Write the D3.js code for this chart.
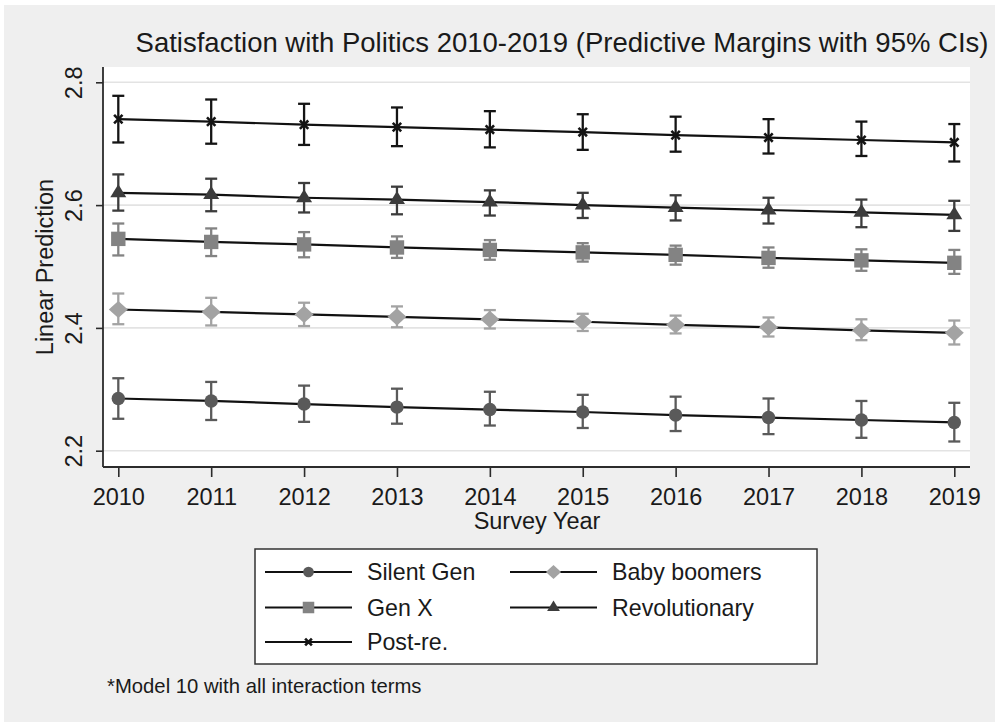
<!DOCTYPE html>
<html>
<head>
<meta charset="utf-8">
<script src="https://cdn.jsdelivr.net/npm/d3@7/dist/d3.min.js"></script>
<style>
  html, body { margin: 0; padding: 0; background: #ffffff; }
  svg { display: block; font-family: "Liberation Sans", Arial, Helvetica, sans-serif; }
</style>
</head>
<body>
<svg id="chart" width="995" height="725"></svg>
<script>
// Survey years on the x axis
const years = [2010, 2011, 2012, 2013, 2014, 2015, 2016, 2017, 2018, 2019];
const yTicks = [2.2, 2.4, 2.6, 2.8];

// Predictive margins per generation, with lower/upper 95% CI bounds
const silentGen     = [2.285, 2.281, 2.276, 2.271, 2.267, 2.263, 2.258, 2.254, 2.250, 2.246];
const silentGenLo   = [2.252, 2.250, 2.247, 2.244, 2.241, 2.237, 2.232, 2.227, 2.221, 2.215];
const silentGenHi   = [2.318, 2.312, 2.306, 2.301, 2.296, 2.291, 2.288, 2.285, 2.281, 2.278];

const babyBoomers   = [2.430, 2.426, 2.422, 2.418, 2.414, 2.410, 2.405, 2.401, 2.396, 2.392];
const babyBoomersLo = [2.406, 2.404, 2.403, 2.401, 2.399, 2.395, 2.391, 2.386, 2.380, 2.373];
const babyBoomersHi = [2.456, 2.449, 2.441, 2.435, 2.429, 2.423, 2.420, 2.417, 2.414, 2.412];

const genX          = [2.545, 2.540, 2.536, 2.531, 2.527, 2.523, 2.519, 2.514, 2.510, 2.506];
const genXLo        = [2.518, 2.517, 2.515, 2.514, 2.511, 2.508, 2.503, 2.498, 2.493, 2.488];
const genXHi        = [2.570, 2.562, 2.556, 2.549, 2.543, 2.538, 2.534, 2.531, 2.528, 2.527];

const revolutionary   = [2.620, 2.617, 2.612, 2.609, 2.605, 2.600, 2.596, 2.592, 2.588, 2.584];
const revolutionaryLo = [2.591, 2.590, 2.588, 2.585, 2.583, 2.579, 2.575, 2.570, 2.564, 2.558];
const revolutionaryHi = [2.650, 2.643, 2.636, 2.630, 2.624, 2.620, 2.616, 2.612, 2.609, 2.607];

const postRe   = [2.740, 2.736, 2.731, 2.727, 2.723, 2.719, 2.714, 2.710, 2.706, 2.702];
const postReLo = [2.702, 2.700, 2.698, 2.696, 2.694, 2.690, 2.687, 2.684, 2.680, 2.671];
const postReHi = [2.778, 2.772, 2.765, 2.759, 2.753, 2.748, 2.744, 2.740, 2.736, 2.732];

const seriesNames = ["Silent Gen", "Baby boomers", "Gen X", "Revolutionary", "Post-re."];

const series = [
  { name: seriesNames[0], v: silentGen,     lo: silentGenLo,     hi: silentGenHi,     color: "#5a5a5a", marker: "circle" },
  { name: seriesNames[1], v: babyBoomers,   lo: babyBoomersLo,   hi: babyBoomersHi,   color: "#a3a3a3", marker: "diamond" },
  { name: seriesNames[2], v: genX,          lo: genXLo,          hi: genXHi,          color: "#838383", marker: "square" },
  { name: seriesNames[3], v: revolutionary, lo: revolutionaryLo, hi: revolutionaryHi, color: "#3c3c3c", marker: "triangle" },
  { name: seriesNames[4], v: postRe,        lo: postReLo,        hi: postReHi,        color: "#141414", marker: "x" }
];

const svg = d3.select("#chart");

// Outer graph region
svg.append("rect").attr("x", 4).attr("y", 5).attr("width", 991).attr("height", 717)
  .attr("fill", "#efefef");

const plot = { left: 103, right: 970, top: 67, bottom: 467 };

const x = d3.scaleLinear().domain([2010, 2019]).range([118.3, 954.3]);
const y = d3.scaleLinear().domain([2.2, 2.8]).range([450.7, 82.3]);

// Plot region
svg.append("rect")
  .attr("x", plot.left).attr("y", plot.top)
  .attr("width", plot.right - plot.left).attr("height", plot.bottom - plot.top)
  .attr("fill", "#ffffff");

// Horizontal gridlines
svg.append("g").selectAll("line").data(yTicks).join("line")
  .attr("x1", plot.left).attr("x2", plot.right)
  .attr("y1", d => y(d)).attr("y2", d => y(d))
  .attr("stroke", "#e3e3e3").attr("stroke-width", 1.6);

// Marker shapes
function markerPath(type, s) {
  const k = s || 1;
  switch (type) {
    case "circle":   return d3.symbol().type(d3.symbolCircle).size(Math.PI * Math.pow(6.7 * k, 2))();
    case "square":   { const h = 7.2 * k; return `M${-h},${-h}H${h}V${h}H${-h}Z`; }
    case "diamond":  { const w = 9.5 * k, hh = 8.6 * k; return `M0,${-hh}L${w},0L0,${hh}L${-w},0Z`; }
    case "triangle": { const w = 8 * k; return `M0,${-8.6 * k}L${w},${4.4 * k}L${-w},${4.4 * k}Z`; }
    case "x":        { const h = 4.2 * k; return `M${-h},${-h}L${h},${h}M${-h},${h}L${h},${-h}`; }
  }
}

function drawMarker(g, type, color, cx, cy, s) {
  const p = g.append("path").attr("d", markerPath(type, s))
    .attr("transform", `translate(${cx},${cy})`);
  if (type === "x") {
    p.attr("fill", "none").attr("stroke", color).attr("stroke-width", 2.6);
  } else {
    p.attr("fill", color).attr("stroke", "none");
  }
}

const capHalf = 6;
const marks = svg.append("g");

// Confidence intervals (capped spikes)
series.forEach(s => {
  const g = marks.append("g");
  years.forEach((yr, i) => {
    const cx = x(yr);
    g.append("line").attr("x1", cx).attr("x2", cx)
      .attr("y1", y(s.lo[i])).attr("y2", y(s.hi[i]))
      .attr("stroke", s.color).attr("stroke-width", 2.3);
    [s.lo[i], s.hi[i]].forEach(b => {
      g.append("line").attr("x1", cx - capHalf).attr("x2", cx + capHalf)
        .attr("y1", y(b)).attr("y2", y(b))
        .attr("stroke", s.color).attr("stroke-width", 2.3);
    });
  });
});

// Connecting lines and point markers
const line = d3.line().x((d, i) => x(years[i])).y(d => y(d));
series.forEach(s => {
  marks.append("path").datum(s.v).attr("d", line)
    .attr("fill", "none").attr("stroke", "#111111").attr("stroke-width", 2.2);
});
series.forEach(s => {
  const g = marks.append("g");
  years.forEach((yr, i) => drawMarker(g, s.marker, s.color, x(yr), y(s.v[i]), 1));
});

// Axes
const axisColor = "#2b2b2b";
const yAxis = svg.append("g").attr("transform", `translate(${plot.left},0)`)
  .call(d3.axisLeft(y).tickValues(yTicks).tickSize(7).tickFormat(d3.format(".1f")));
yAxis.select(".domain").attr("d", `M0,${plot.top}V${plot.bottom}`)
  .attr("stroke", axisColor).attr("stroke-width", 1.8);
yAxis.selectAll(".tick line").attr("stroke", axisColor).attr("stroke-width", 1.6);
yAxis.selectAll(".tick text")
  .attr("x", 0).attr("dy", 0)
  .attr("transform", "translate(-21,0) rotate(-90)")
  .attr("text-anchor", "middle")
  .attr("font-size", 23.5).attr("fill", "#1a1a1a")
  .attr("font-family", "Liberation Sans, Arial, sans-serif");

const xAxis = svg.append("g").attr("transform", `translate(0,${plot.bottom})`)
  .call(d3.axisBottom(x).tickValues(years).tickSize(10).tickFormat(d3.format("d")));
xAxis.select(".domain").attr("d", `M${plot.left},0H${plot.right}`)
  .attr("stroke", axisColor).attr("stroke-width", 1.8);
xAxis.selectAll(".tick line").attr("stroke", axisColor).attr("stroke-width", 1.6);
xAxis.selectAll(".tick text")
  .attr("y", 38).attr("dy", 0)
  .attr("font-size", 23.5).attr("fill", "#1a1a1a")
  .attr("font-family", "Liberation Sans, Arial, sans-serif");

// Titles
svg.append("text").attr("x", 562).attr("y", 52).attr("text-anchor", "middle")
  .attr("font-size", 27.5).attr("fill", "#1a1a1a")
  .text("Satisfaction with Politics 2010-2019 (Predictive Margins with 95% CIs)");

svg.append("text").attr("x", 537).attr("y", 529).attr("text-anchor", "middle")
  .attr("font-size", 23.5).attr("fill", "#1a1a1a").text("Survey Year");

svg.append("text").attr("transform", `translate(53,${(plot.top + plot.bottom) / 2}) rotate(-90)`)
  .attr("text-anchor", "middle")
  .attr("font-size", 23.5).attr("fill", "#1a1a1a").text("Linear Prediction");

// Legend
const legend = svg.append("g");
legend.append("rect").attr("x", 255).attr("y", 549).attr("width", 562).attr("height", 115)
  .attr("fill", "#ffffff").attr("stroke", "#333333").attr("stroke-width", 1.5);

const legendSlots = [
  { col: 0, row: 0 }, { col: 1, row: 0 },
  { col: 0, row: 1 }, { col: 1, row: 1 },
  { col: 0, row: 2 }
];
const colX = [265, 510];
const rowY = [572, 607.5, 642];
series.forEach((s, i) => {
  const slot = legendSlots[i];
  const x0 = colX[slot.col], yy = rowY[slot.row];
  legend.append("line").attr("x1", x0).attr("x2", x0 + 87).attr("y1", yy).attr("y2", yy)
    .attr("stroke", "#111111").attr("stroke-width", 2);
  drawMarker(legend, s.marker, s.color, x0 + 43.5, yy, 0.8);
  legend.append("text").attr("x", x0 + 102).attr("y", yy + 8)
    .attr("font-size", 23.2).attr("fill", "#1a1a1a").text(s.name);
});

// Note
svg.append("text").attr("x", 107).attr("y", 693)
  .attr("font-size", 20.3).attr("fill", "#1a1a1a")
  .text("*Model 10 with all interaction terms");
</script>
</body>
</html>
